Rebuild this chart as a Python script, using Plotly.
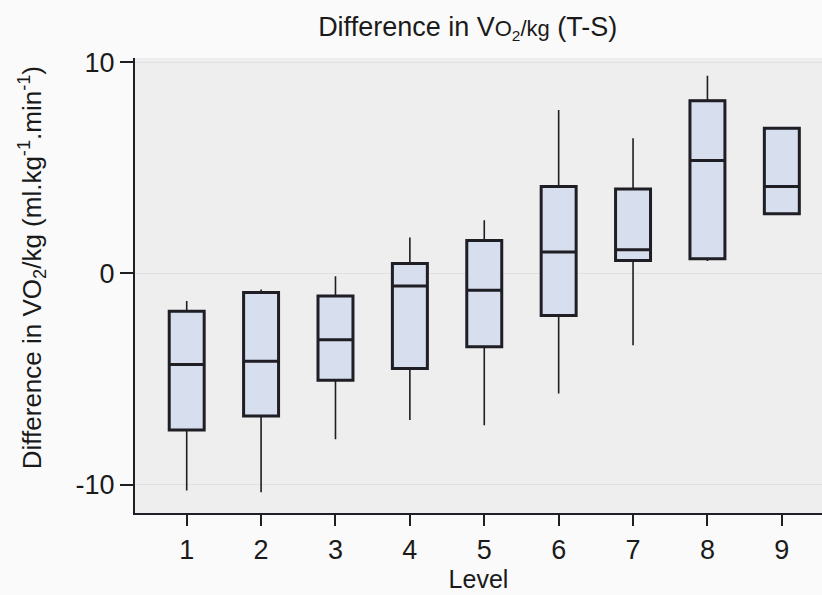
import plotly.graph_objects as go

levels = [1, 2, 3, 4, 5, 6, 7, 8, 9]
lower_whisker = [-10.29, -10.37, -7.86, -6.95, -7.19, -5.69, -3.40, 0.58, 2.82]
q1 = [-7.42, -6.76, -5.06, -4.51, -3.48, -1.99, 0.61, 0.69, 2.82]
median = [-4.32, -4.16, -3.14, -0.60, -0.80, 1.01, 1.12, 5.34, 4.11]
q3 = [-1.80, -0.91, -1.07, 0.47, 1.56, 4.11, 4.00, 8.18, 6.87]
upper_whisker = [-1.31, -0.77, -0.14, 1.70, 2.51, 7.74, 6.40, 9.36, 6.87]

font_family = "Liberation Sans, Arial, sans-serif"
line_col = "#1e1e24"
fill_col = "#d7dfee"
text_col = "#1a1a1a"

fig = go.Figure()

# thin whiskers
fig.add_trace(go.Box(
    x=levels, q1=q1, median=median, q3=q3,
    lowerfence=lower_whisker, upperfence=upper_whisker,
    width=0.47, whiskerwidth=0,
    line=dict(color=line_col, width=1.6),
    fillcolor="rgba(0,0,0,0)",
    boxpoints=False, showlegend=False, hoverinfo="skip",
))
# thick boxes
fig.add_trace(go.Box(
    x=levels, q1=q1, median=median, q3=q3,
    lowerfence=q1, upperfence=q3,
    width=0.47, whiskerwidth=0,
    line=dict(color=line_col, width=3),
    fillcolor=fill_col,
    boxpoints=False, showlegend=False,
))

fig.add_annotation(
    text="Difference in VO<sub>2</sub>/kg (ml.kg<sup>-1</sup>.min<sup>-1</sup>)",
    xref="paper", yref="paper", x=-0.15, y=0.54,
    xanchor="center", yanchor="middle", textangle=-90, showarrow=False,
    font=dict(size=26, family=font_family, color=text_col),
)

fig.update_layout(
    width=822, height=595,
    boxmode="overlay",
    paper_bgcolor="#fafafa",
    plot_bgcolor="#eeeeee",
    margin=dict(l=135, r=0, t=58, b=82),
    font=dict(family=font_family, color=text_col, size=24),
    title=dict(
        text="Difference in V<span style='font-size:22px'>O<sub>2</sub>/kg</span> (T-S)",
        x=0.569, xanchor="center", y=0.955, yanchor="middle",
        font=dict(size=27, family=font_family, color=text_col),
    ),
    xaxis=dict(
        range=[0.305, 9.54],
        tickmode="array", tickvals=levels, ticktext=[str(v) for v in levels],
        showline=True, linecolor=line_col, linewidth=2.2,
        ticks="outside", ticklen=11, tickwidth=1.6, tickcolor=line_col,
        showgrid=False, zeroline=False,
        tickfont=dict(size=27),
        title=dict(text="Level", font=dict(size=25), standoff=1),
    ),
    yaxis=dict(
        range=[-11.35, 10.2],
        tickmode="array", tickvals=[-10, 0, 10], ticktext=["-10", "0", "10"],
        showline=True, linecolor=line_col, linewidth=2.2,
        ticks="outside", ticklen=13, tickwidth=1.6, tickcolor=line_col,
        showgrid=True, gridcolor="#e0e0e0", gridwidth=1,
        zeroline=False,
        tickfont=dict(size=27),
    ),
)

fig.write_html("out.html")
